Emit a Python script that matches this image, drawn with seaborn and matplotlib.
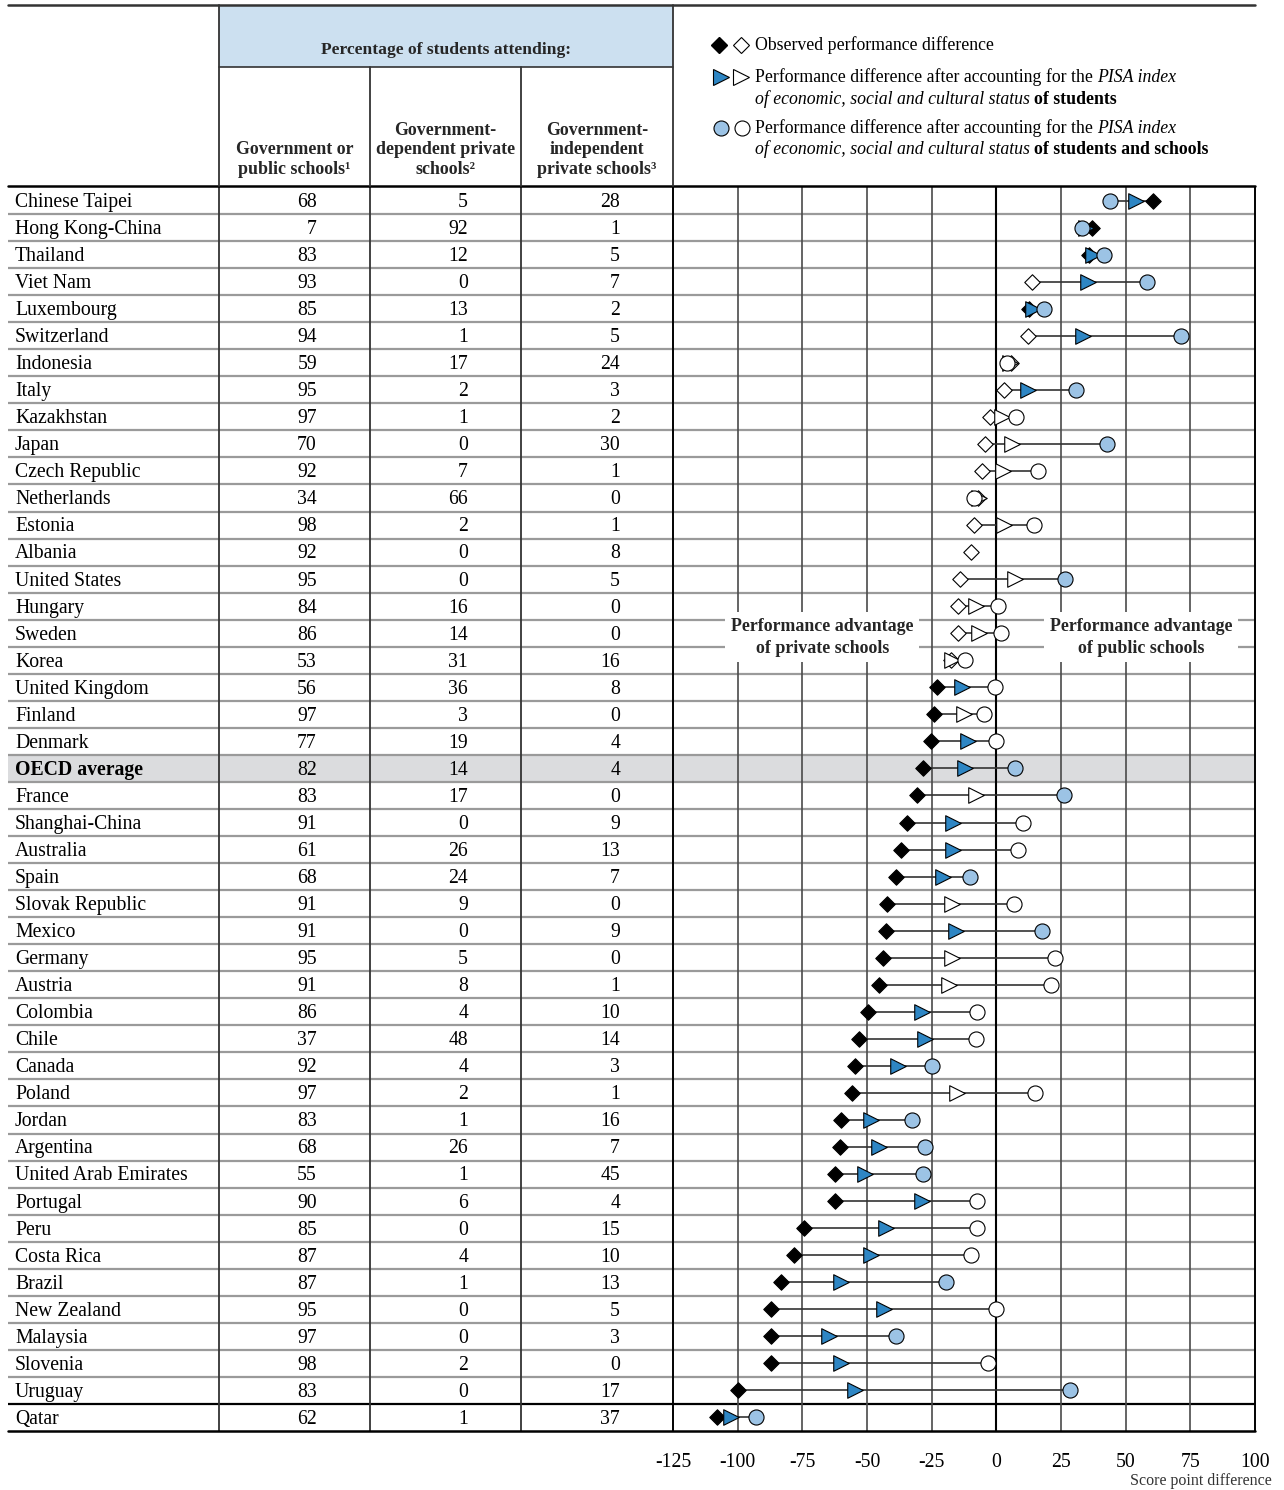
import numpy as np
import pandas as pd
import matplotlib
matplotlib.use("Agg")
import matplotlib.pyplot as plt
from matplotlib.patches import Rectangle
import seaborn as sns

# ---------------------------------------------------------------- data
countries = [
    "Chinese Taipei", "Hong Kong-China", "Thailand", "Viet Nam", "Luxembourg",
    "Switzerland", "Indonesia", "Italy", "Kazakhstan", "Japan", "Czech Republic",
    "Netherlands", "Estonia", "Albania", "United States", "Hungary", "Sweden",
    "Korea", "United Kingdom", "Finland", "Denmark", "OECD average", "France",
    "Shanghai-China", "Australia", "Spain", "Slovak Republic", "Mexico",
    "Germany", "Austria", "Colombia", "Chile", "Canada", "Poland", "Jordan",
    "Argentina", "United Arab Emirates", "Portugal", "Peru", "Costa Rica",
    "Brazil", "New Zealand", "Malaysia", "Slovenia", "Uruguay", "Qatar",
]

public_pct = [68, 7, 83, 93, 85, 94, 59, 95, 97, 70, 92, 34, 98, 92, 95, 84,
              86, 53, 56, 97, 77, 82, 83, 91, 61, 68, 91, 91, 95, 91, 86, 37,
              92, 97, 83, 68, 55, 90, 85, 87, 87, 95, 97, 98, 83, 62]
gov_dependent_pct = [5, 92, 12, 0, 13, 1, 17, 2, 1, 0, 7, 66, 2, 0, 0, 16,
                     14, 31, 36, 3, 19, 14, 17, 0, 26, 24, 9, 0, 5, 8, 4, 48,
                     4, 2, 1, 26, 1, 6, 0, 4, 1, 0, 0, 2, 0, 1]
gov_independent_pct = [28, 1, 5, 7, 2, 5, 24, 3, 2, 30, 1, 0, 1, 8, 5, 0,
                       0, 16, 8, 0, 4, 4, 0, 9, 13, 7, 0, 9, 0, 1, 10, 14,
                       3, 1, 16, 7, 45, 4, 15, 10, 13, 5, 3, 0, 17, 37]

# score-point difference (public minus private)
observed = [60.4, 37.0, 35.9, 13.8, 12.6, 12.4, 5.5, 2.8, -2.5, -4.4, -5.5,
            -7.1, -8.7, -9.9, -14.2, -14.7, -14.8, -17.5, -23.0, -24.0, -25.2,
            -28.3, -30.7, -34.5, -36.9, -38.8, -42.4, -42.8, -44.0, -45.2,
            -49.8, -52.9, -54.5, -55.9, -59.9, -60.4, -62.2, -62.4, -74.2,
            -78.1, -83.3, -87.1, -87.1, -87.3, -99.9, -108.0]
adj_students = [54.1, 34.5, 37.5, 35.6, 14.1, 33.6, 5.2, 12.1, 2.2, 5.9, 2.5,
                -6.7, 3.0, np.nan, 7.1, -7.7, -6.7, -17.0, -13.3, -12.6, -11.1,
                -12.3, -7.9, -16.6, -16.7, -20.7, -17.2, -15.7, -17.2, -18.4,
                -28.6, -27.4, -38.2, -15.1, -48.6, -45.5, -50.7, -28.7, -42.5,
                -48.4, -60.0, -43.3, -64.7, -60.0, -54.8, -102.7]
adj_students_schools = [44.1, 33.3, 41.8, 58.4, 18.5, 71.3, 4.1, 30.8, 7.7,
                        42.7, 16.3, -8.6, 14.7, np.nan, 26.7, 0.7, 1.9, -12.3,
                        -0.4, -4.9, -0.3, 7.4, 26.2, 10.5, 8.4, -10.1, 6.7,
                        17.8, 22.8, 21.2, -7.3, -8.0, -24.7, 15.0, -32.6, -27.4,
                        -28.3, -7.3, -7.3, -9.8, -19.3, 0.0, -38.8, -3.4, 28.4,
                        -92.9]

# 1 = statistically significant (filled marker)
observed_sig = [1, 1, 1, 0, 1, 0, 0, 0, 0, 0, 0, 0, 0, 0, 0, 0, 0, 0, 1, 1, 1,
                1, 1, 1, 1, 1, 1, 1, 1, 1, 1, 1, 1, 1, 1, 1, 1, 1, 1, 1, 1, 1,
                1, 1, 1, 1]
students_sig = [1, 1, 1, 1, 1, 1, 0, 1, 0, 0, 0, 0, 0, 0, 0, 0, 0, 0, 1, 0, 1,
                1, 0, 1, 1, 1, 0, 1, 0, 0, 1, 1, 1, 0, 1, 1, 1, 1, 1, 1, 1, 1,
                1, 1, 1, 1]
schools_sig = [1, 1, 1, 1, 1, 1, 0, 1, 0, 1, 0, 0, 0, 0, 1, 0, 0, 0, 0, 0, 0,
               1, 1, 0, 0, 1, 0, 1, 0, 0, 0, 0, 1, 0, 1, 1, 1, 0, 0, 0, 1, 0,
               1, 0, 1, 1]

x_ticks = [-125, -100, -75, -50, -25, 0, 25, 50, 75, 100]
highlight = "OECD average"

# ---------------------------------------------------------------- style
sns.set_theme(style="white")
plt.rcParams["font.family"] = ["Liberation Serif", "DejaVu Serif"]
plt.rcParams["axes.unicode_minus"] = False

TRI_BLUE = "#2E86C4"
CIRC_BLUE = "#9CC3E5"
HEAD_BLUE = "#CCE0F0"
ROW_GREY = "#DBDCDE"
ROW_LINE = "#9A9A9A"
FS = 14.2
FS_HEAD = 12.6
TXT_DY = 0.07  # nudge row text onto the optical centre of each row

W, H = 1284, 1490
fig = plt.figure(figsize=(W / 100, H / 100), dpi=100)

PLOT_L, PLOT_R = 673, 1255
ROW_T, ROW_B = 187, 1431
TAB_L = 8
n = len(countries)
hi = countries.index(highlight)


def frac_box(x0, x1, y0, y1):
    return [x0 / W, 1 - y1 / H, (x1 - x0) / W, (y1 - y0) / H]


tab = fig.add_axes(frac_box(TAB_L, PLOT_L, ROW_T, ROW_B))
ax = fig.add_axes(frac_box(PLOT_L, PLOT_R, ROW_T, ROW_B))
over = fig.add_axes([0, 0, 1, 1], zorder=10)
over.set_xlim(0, W)
over.set_ylim(H, 0)
over.axis("off")
over.patch.set_alpha(0)

# ---------------------------------------------------------------- table
tab.set_xlim(TAB_L, PLOT_L)
tab.set_ylim(n - 0.5, -0.5)
tab.axis("off")
tab.axhspan(hi - 0.5, hi + 0.5, color=ROW_GREY, lw=0, zorder=0)
for i in range(n - 1):
    col = "black" if i == n - 2 else ROW_LINE
    tab.axhline(i + 0.5, color=col, lw=1.6, zorder=1)
for xv in (219, 370, 521):
    tab.axvline(xv, color="#333333", lw=1.3, zorder=2)

col_right = [317, 468, 620]
for i, name in enumerate(countries):
    bold = name == highlight
    tab.text(15, i + TXT_DY, name, ha="left", va="center", fontsize=FS,
             fontweight="bold" if bold else "normal", color="black")
    for xr, vals in zip(col_right, (public_pct, gov_dependent_pct,
                                     gov_independent_pct)):
        tab.text(xr, i + TXT_DY, str(vals[i]), ha="right", va="center",
                 fontsize=FS, color="black")

# ---------------------------------------------------------------- dot plot
df = pd.DataFrame({
    "row": np.arange(n),
    "observed": observed,
    "students": adj_students,
    "schools": adj_students_schools,
    "observed_sig": observed_sig,
    "students_sig": students_sig,
    "schools_sig": schools_sig,
})

ax.set_facecolor("white")
ax.axhspan(hi - 0.5, hi + 0.5, color=ROW_GREY, lw=0, zorder=0)
for i in range(n - 1):
    col = "black" if i == n - 2 else ROW_LINE
    ax.axhline(i + 0.5, color=col, lw=1.6, zorder=1)
for t in x_ticks[1:-1]:
    ax.axvline(t, color="black" if t == 0 else "#4a4a4a",
               lw=1.5 if t == 0 else 1.2, zorder=1.5)

vals = df[["observed", "students", "schools"]].to_numpy()
ax.hlines(df["row"], np.nanmin(vals, axis=1), np.nanmax(vals, axis=1),
          color="#333333", lw=1.2, zorder=3)

series = [
    ("observed", "observed_sig", "D", 62, "black"),
    ("students", "students_sig", ">", 125, TRI_BLUE),
    ("schools", "schools_sig", "o", 118, CIRC_BLUE),
]
for z, (col, sig, mk, size, fill) in enumerate(series):
    sub = df.dropna(subset=[col])
    sns.scatterplot(data=sub[sub[sig] == 1], x=col, y="row", marker=mk, s=size,
                    color=fill, edgecolor="black", linewidth=0.8, ax=ax,
                    zorder=4 + z, legend=False)
    sns.scatterplot(data=sub[sub[sig] == 0], x=col, y="row", marker=mk, s=size,
                    color="white", edgecolor="black", linewidth=0.8, ax=ax,
                    zorder=4 + z, legend=False)

ax.set_xlim(x_ticks[0], x_ticks[-1])
ax.set_ylim(n - 0.5, -0.5)
ax.set_xlabel("")
ax.set_ylabel("")
ax.set_yticks([])
ax.set_xticks(x_ticks)
ax.set_xticklabels([str(t) for t in x_ticks], fontsize=FS)
ax.tick_params(axis="x", length=0, pad=16, colors="black")
for side in ("left", "right"):
    ax.spines[side].set_color("black")
    ax.spines[side].set_linewidth(1.4)
ax.spines["top"].set_visible(False)
ax.spines["bottom"].set_visible(False)

box = dict(facecolor="white", edgecolor="none", pad=4)
ax.text(-67.3, 16.15, "Performance advantage\nof private schools",
        ha="center", va="center", fontsize=FS_HEAD + 0.3, fontweight="bold",
        linespacing=1.35, bbox=box, zorder=3.5)
ax.text(56.0, 16.15, "Performance advantage\nof public schools",
        ha="center", va="center", fontsize=FS_HEAD + 0.3, fontweight="bold",
        linespacing=1.35, bbox=box, zorder=3.5)

fig.text(1272 / W, 1 - 1481 / H, "Score point difference", ha="right",
         va="center", fontsize=11.5, color="#333333")

# ---------------------------------------------------------------- header
over.add_patch(Rectangle((219, 5), PLOT_L - 219, 62, facecolor=HEAD_BLUE,
                         edgecolor="none", zorder=0))
over.plot([TAB_L, PLOT_R], [5, 5], color="#333333", lw=1.8)
over.plot([219, PLOT_L], [67, 67], color="#333333", lw=1.2)
over.plot([TAB_L, PLOT_R], [186, 186], color="black", lw=1.8)
over.plot([TAB_L, PLOT_R], [ROW_B, ROW_B], color="black", lw=1.8)
over.plot([219, 219], [5, 186], color="#333333", lw=1.3)
over.plot([PLOT_L, PLOT_L], [5, 186], color="#333333", lw=1.3)
for xv in (370, 521):
    over.plot([xv, xv], [67, 186], color="#333333", lw=1.3)

over.text(446, 50, "Percentage of students attending:", ha="center",
          va="center", fontsize=FS_HEAD, fontweight="bold")
col_heads = [
    (294.5, "Government or\npublic schools\u00b9"),
    (445.5, "Government-\ndependent private\nschools\u00b2"),
    (597, "Government-\nindependent\nprivate schools\u00b3"),
]
for xc, txt in col_heads:
    over.text(xc, 178, txt, ha="center", va="bottom", fontsize=FS_HEAD + 0.3,
              fontweight="bold", linespacing=1.2, multialignment="center")

# legend keys
LEG_FS = 12.8
over.plot([719], [45], marker="D", ms=7.9, mfc="black", mec="black", ls="none")
over.plot([741], [45], marker="D", ms=7.9, mfc="white", mec="black",
          mew=0.8, ls="none")
over.plot([721], [77], marker=">", ms=11, mfc=TRI_BLUE, mec="black",
          mew=0.8, ls="none")
over.plot([741], [77], marker=">", ms=11, mfc="white", mec="black",
          mew=0.8, ls="none")
over.plot([721], [128], marker="o", ms=10.8, mfc=CIRC_BLUE, mec="black",
          mew=0.8, ls="none")
over.plot([742], [128], marker="o", ms=10.8, mfc="white", mec="black",
          mew=0.8, ls="none")

renderer = fig.canvas.get_renderer()
SPACE = LEG_FS * 100 / 72 * 0.25


def text_runs(x, y, runs):
    for s, style in runs:
        t = over.text(x, y, s, ha="left", va="center", fontsize=LEG_FS,
                      color="black", **style)
        x += t.get_window_extent(renderer).width + SPACE


REG = {}
ITA = {"fontstyle": "italic"}
BLD = {"fontweight": "bold"}
text_runs(755, 45.5, [("Observed performance difference", REG)])
text_runs(755, 77.5, [("Performance difference after accounting for the", REG),
                      ("PISA index", ITA)])
text_runs(755, 99.5, [("of economic, social and cultural status", ITA),
                      ("of students", BLD)])
text_runs(755, 128.5, [("Performance difference after accounting for the",
                        REG), ("PISA index", ITA)])
text_runs(755, 149.5, [("of economic, social and cultural status", ITA),
                       ("of students and schools", BLD)])

fig.savefig("out.png", dpi=100)
